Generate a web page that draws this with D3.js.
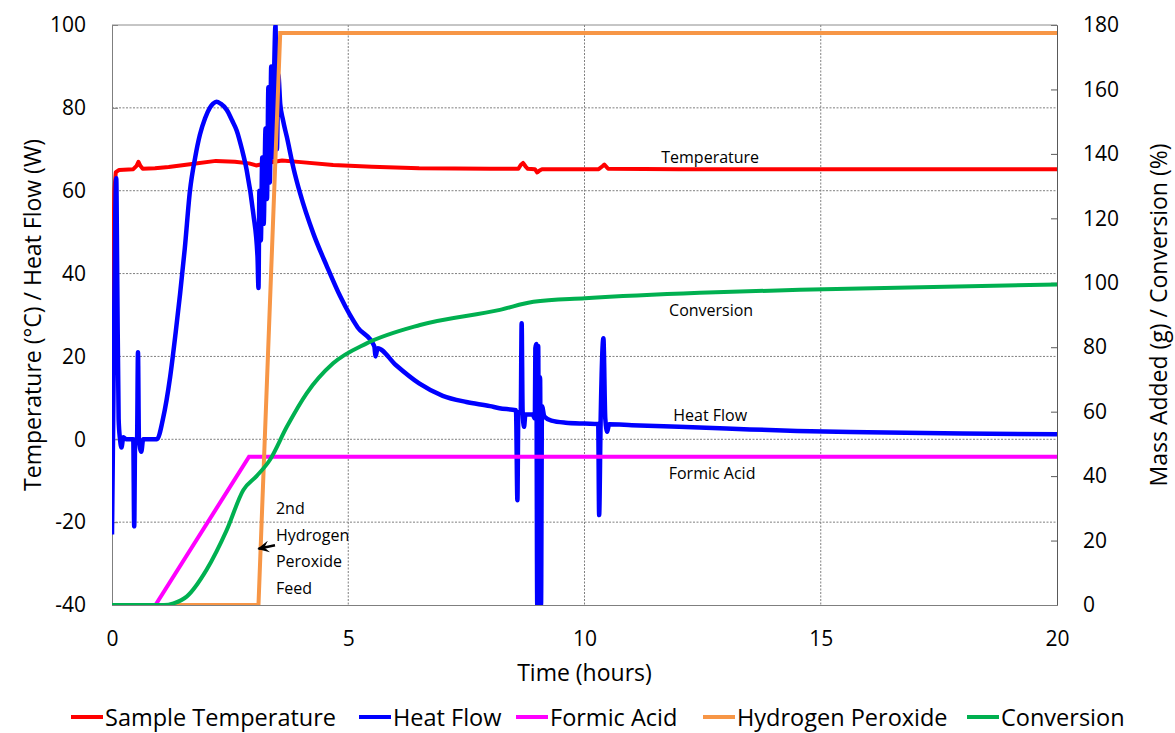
<!DOCTYPE html>
<html>
<head>
<meta charset="utf-8">
<script src="https://cdn.jsdelivr.net/npm/d3@7/dist/d3.min.js"></script>
<style>
  body { margin: 0; background: #fff; }
  text { font-family: "Open Sans", "DejaVu Sans", sans-serif; fill: #000; }
</style>
</head>
<body>
<div id="chart"></div>
<script>
// tick values
const xTicks = [0, 5, 10, 15, 20];
const leftTicks = [-40, -20, 0, 20, 40, 60, 80, 100];
const rightTicks = [0, 20, 40, 60, 80, 100, 120, 140, 160, 180];

// [time (h), value]
const tempPts = [
  [0, 29], [0.05, 60], [0.08, 64.5], [0.15, 65], [0.45, 65.2], [0.52, 66], [0.56, 67], [0.6, 66],
  [0.65, 65.3], [0.91, 65.4], [1.2, 65.7], [1.65, 66.4], [2.2, 67.2], [2.6, 67], [2.9, 66.6],
  [3.05, 66.1], [3.34, 66.8], [3.6, 67.3], [4.0, 66.9], [4.68, 66.2], [5.5, 65.8], [6.5, 65.4],
  [8.0, 65.3], [8.6, 65.3], [8.65, 66.2], [8.7, 66.7], [8.75, 65.9], [8.8, 65.3], [8.95, 65.2],
  [9.0, 64.4], [9.05, 64.9], [9.1, 65.2], [10.3, 65.2], [10.38, 65.9], [10.42, 66.3], [10.5, 65.3],
  [12, 65.2], [15, 65.2], [20, 65.2]
];

const heatPts = [
  [0, -23], [0.03, 10], [0.07, 55], [0.09, 63], [0.11, 40], [0.14, 5], [0.17, 0], [0.2, -2],
  [0.24, 0.5], [0.3, 0], [0.45, 0], [0.47, -21], [0.49, 0], [0.53, 0], [0.55, 21], [0.57, 0],
  [0.62, -3], [0.66, 0], [0.95, 0], [1.08, 5], [1.23, 15], [1.35, 26], [1.44, 35], [1.54, 46],
  [1.65, 60], [1.76, 68], [1.86, 73.5], [1.97, 77.5], [2.07, 80], [2.14, 81], [2.21, 81.5],
  [2.3, 81], [2.43, 79.5], [2.54, 77], [2.64, 74.5], [2.75, 70], [2.85, 65],
  [2.99, 54.5], [3.08, 44], [3.1, 36.5], [3.12, 60], [3.15, 48], [3.18, 68], [3.21, 52],
  [3.25, 75], [3.28, 58], [3.31, 85], [3.34, 62], [3.37, 90], [3.4, 68], [3.43, 88], [3.46, 100],
  [3.49, 70], [3.52, 88], [3.56, 81], [3.62, 77], [3.7, 73], [3.85, 65], [3.98, 59.4], [4.26, 49.7],
  [4.55, 41.7], [4.83, 34.5], [5.2, 27], [5.55, 22.5], [5.58, 20], [5.62, 22], [6, 18], [6.5, 13.5],
  [7, 10.5], [7.5, 9], [8, 8], [8.2, 7.5], [8.55, 7], [8.58, -14.7], [8.6, 6.5], [8.65, 6.5],
  [8.67, 28], [8.69, 7], [8.72, 3], [8.75, 6], [8.9, 6], [8.95, 5], [8.96, 22], [8.98, 23],
  [9.0, -40], [9.02, 22.5], [9.04, -40], [9.06, 15], [9.08, -40], [9.1, 8], [9.15, 5.5],
  [9.3, 4.5], [9.6, 4], [10, 3.8], [10.29, 3.7], [10.31, -18.3], [10.34, 3.5], [10.4, 24.4],
  [10.44, 5], [10.48, 1.8], [10.52, 3.6], [11, 3.4], [12, 3], [13, 2.6], [14.5, 2], [16, 1.7],
  [18, 1.4], [20, 1.2]
];

const formicPts = [[0, 0], [0.92, 0], [2.9, 46], [20, 46]];
const peroxidePts = [[0, 0], [3.1, 0], [3.56, 177.5], [20, 177.5]];
const conversionPts = [
  [0, 0], [1.1, 0], [1.3, 0.5], [1.58, 2.6], [2.0, 10.9], [2.43, 23.3], [2.78, 35.7], [3.06, 40],
  [3.34, 45], [3.7, 55.3], [4.12, 65.7], [4.68, 75], [5.39, 81.2], [6.52, 86.9], [8.21, 91.6],
  [8.92, 94.1], [10.01, 95.2], [12.44, 96.9], [14.56, 97.8], [20, 99.5]
];

const legendItems = [
  { name: "Sample Temperature", color: "#ff0000" },
  { name: "Heat Flow", color: "#0000ff" },
  { name: "Formic Acid", color: "#ff00ff" },
  { name: "Hydrogen Peroxide", color: "#f79646" },
  { name: "Conversion", color: "#00b050" }
];

const W = 1175, H = 733;
const margin = { top: 25, right: 118, bottom: 128, left: 112 };
const width = W - margin.left - margin.right;
const height = H - margin.top - margin.bottom;

const svg = d3.select("#chart").append("svg")
  .attr("width", W)
  .attr("height", H);

const defs = svg.append("defs");
defs.append("clipPath")
  .attr("id", "plot-clip")
  .append("rect")
  .attr("width", width)
  .attr("height", height);

defs.append("marker")
  .attr("id", "arrow")
  .attr("viewBox", "0 0 10 10")
  .attr("refX", 1)
  .attr("refY", 5)
  .attr("markerWidth", 12)
  .attr("markerHeight", 12)
  .attr("markerUnits", "userSpaceOnUse")
  .attr("orient", "auto")
  .append("path")
  .attr("d", "M0,5 L10,0 L6,5 L10,10 Z")
  .attr("fill", "#000");

const g = svg.append("g")
  .attr("transform", `translate(${margin.left},${margin.top})`);

const x = d3.scaleLinear().domain([0, 20]).range([0, width]);
const yL = d3.scaleLinear().domain([-40, 100]).range([height, 0]);
const yR = d3.scaleLinear().domain([0, 180]).range([height, 0]);

// gridlines
g.append("g")
  .selectAll("line")
  .data(leftTicks.filter(v => v > -40 && v < 100))
  .enter().append("line")
  .attr("x1", 0).attr("x2", width)
  .attr("y1", d => yL(d)).attr("y2", d => yL(d))
  .attr("stroke", "#7f7f7f")
  .attr("stroke-dasharray", "2 1.5");

g.append("g")
  .selectAll("line")
  .data(xTicks.filter(v => v > 0 && v < 20))
  .enter().append("line")
  .attr("y1", 0).attr("y2", height)
  .attr("x1", d => x(d)).attr("x2", d => x(d))
  .attr("stroke", "#7f7f7f")
  .attr("stroke-dasharray", "2 1.5");

// axes
const fmt = d => String(d);

const leftAxis = g.append("g")
  .call(d3.axisLeft(yL).tickValues(leftTicks).tickSize(-6).tickPadding(26).tickFormat(fmt));
leftAxis.select(".domain").attr("stroke", "#7f7f7f");
leftAxis.selectAll(".tick line").attr("stroke", "#7f7f7f");

const rightAxis = g.append("g")
  .attr("transform", `translate(${width},0)`)
  .call(d3.axisRight(yR).tickValues(rightTicks).tickSize(-6).tickPadding(26).tickFormat(fmt));
rightAxis.select(".domain").attr("stroke", "#595959");
rightAxis.selectAll(".tick line").attr("stroke", "#595959");

const bottomAxis = g.append("g")
  .attr("transform", `translate(0,${height})`)
  .call(d3.axisBottom(x).tickValues(xTicks).tickSize(0).tickPadding(26).tickFormat(fmt));
bottomAxis.select(".domain").attr("stroke", "#7f7f7f");

g.append("line")
  .attr("x1", 0).attr("x2", width)
  .attr("y1", 0).attr("y2", 0)
  .attr("stroke", "#8c8c8c");

g.selectAll(".tick text")
  .style("font-size", "21px")
  .style("font-family", "'Open Sans', sans-serif")
  .attr("fill", "#000");

// series
const plot = g.append("g").attr("clip-path", "url(#plot-clip)");

const lineL = d3.line().x(d => x(d[0])).y(d => yL(d[1]));
const smoothL = d3.line().curve(d3.curveMonotoneX).x(d => x(d[0])).y(d => yL(d[1]));
const lineR = d3.line().x(d => x(d[0])).y(d => yR(d[1]));
const smoothR = d3.line().curve(d3.curveMonotoneX).x(d => x(d[0])).y(d => yR(d[1]));

plot.append("path").datum(tempPts)
  .attr("d", lineL)
  .attr("fill", "none").attr("stroke", "#ff0000").attr("stroke-width", 4)
  .attr("stroke-linejoin", "round");

plot.append("path").datum(heatPts)
  .attr("d", smoothL)
  .attr("fill", "none").attr("stroke", "#0000ff").attr("stroke-width", 4.5)
  .attr("stroke-linejoin", "round");

plot.append("path").datum(formicPts)
  .attr("d", lineR)
  .attr("fill", "none").attr("stroke", "#ff00ff").attr("stroke-width", 4);

plot.append("path").datum(peroxidePts)
  .attr("d", lineR)
  .attr("fill", "none").attr("stroke", "#f79646").attr("stroke-width", 4);

plot.append("path").datum(conversionPts)
  .attr("d", smoothR)
  .attr("fill", "none").attr("stroke", "#00b050").attr("stroke-width", 4);

// annotations
const notes = [
  { t: 12.66, v: 68.1, text: "Temperature" },
  { t: 12.68, v: 31.2, text: "Conversion" },
  { t: 12.66, v: 5.9, text: "Heat Flow" },
  { t: 12.7, v: -8.1, text: "Formic Acid" }
];
g.selectAll("text.note")
  .data(notes)
  .enter().append("text")
  .attr("class", "note")
  .attr("x", d => x(d.t))
  .attr("y", d => yL(d.v))
  .attr("text-anchor", "middle")
  .attr("dominant-baseline", "central")
  .style("font-size", "16px")
  .text(d => d.text);

const feedLines = ["2nd", "Hydrogen", "Peroxide", "Feed"];
g.selectAll("text.feed")
  .data(feedLines)
  .enter().append("text")
  .attr("class", "feed")
  .attr("x", x(3.47))
  .attr("y", (d, i) => yL(-16.6) + i * 26.7)
  .attr("dominant-baseline", "central")
  .style("font-size", "16px")
  .text(d => d);

g.append("line")
  .attr("x1", x(3.1)).attr("y1", yL(-26.4))
  .attr("x2", x(3.45)).attr("y2", yL(-25.6))
  .attr("stroke", "#000").attr("stroke-width", 2.5)
  .attr("marker-start", "url(#arrow)");

// axis titles
svg.append("text")
  .attr("transform", `translate(32,${margin.top + height / 2}) rotate(-90)`)
  .attr("text-anchor", "middle")
  .attr("dominant-baseline", "central")
  .style("font-size", "23px")
  .text("Temperature (°C) / Heat Flow (W)");

svg.append("text")
  .attr("transform", `translate(1158,${margin.top + height / 2}) rotate(-90)`)
  .attr("text-anchor", "middle")
  .attr("dominant-baseline", "central")
  .style("font-size", "23px")
  .text("Mass Added (g) / Conversion (%)");

svg.append("text")
  .attr("x", margin.left + width / 2)
  .attr("y", 672)
  .attr("text-anchor", "middle")
  .attr("dominant-baseline", "central")
  .style("font-size", "23px")
  .text("Time (hours)");

// legend
const legendX = [71, 359, 516, 703, 967];
const legend = svg.append("g").attr("transform", "translate(0,717)");
const item = legend.selectAll("g")
  .data(legendItems)
  .enter().append("g")
  .attr("transform", (d, i) => `translate(${legendX[i]},0)`);

item.append("line")
  .attr("x1", 0).attr("x2", 32)
  .attr("y1", 0).attr("y2", 0)
  .attr("stroke", d => d.color)
  .attr("stroke-width", 4);

item.append("text")
  .attr("x", 34)
  .attr("y", 0)
  .attr("dominant-baseline", "central")
  .style("font-size", "23.5px")
  .text(d => d.name);
</script>
</body>
</html>
